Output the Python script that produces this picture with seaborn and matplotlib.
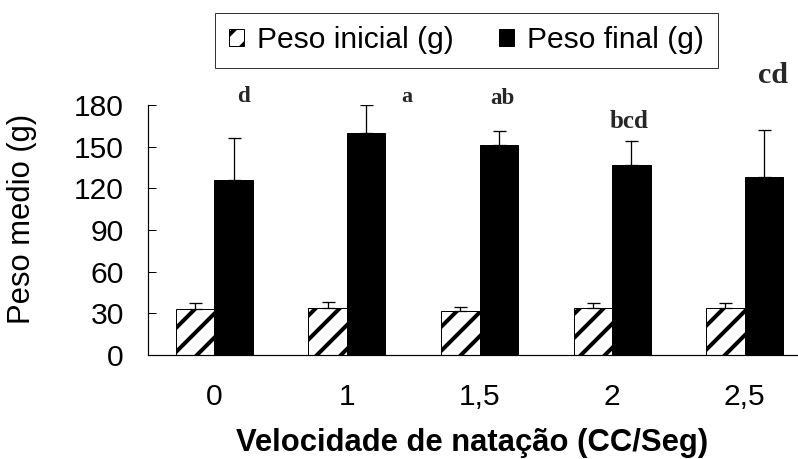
import matplotlib
matplotlib.use("Agg")
import matplotlib.pyplot as plt
import matplotlib.patches as mpatches
import seaborn as sns
import pandas as pd
import numpy as np

# ---- data ----
categories = ["0", "1", "1,5", "2", "2,5"]
peso_inicial = [33.0, 34.2, 31.6, 34.0, 34.2]
peso_inicial_err = [4.1, 4.1, 3.3, 3.1, 2.9]
peso_final = [126.0, 160.0, 151.0, 137.0, 128.0]
peso_final_err = [30.0, 20.0, 10.0, 17.0, 34.0]
letters = ["d", "a", "ab", "bcd", "cd"]
series_names = ["Peso inicial (g)", "Peso final (g)"]
yticks = [0, 30, 60, 90, 120, 150, 180]

# ---- layout for letters (offset from group centre, y in data units, size) ----
letter_dx = [0.22, 0.45, 0.17, 0.13, 0.21]
letter_y = [186, 186, 185, 168, 201]
letter_size = [23, 22, 23, 25, 30]

df = pd.DataFrame({
    "cat": categories * 2,
    "serie": [series_names[0]] * 5 + [series_names[1]] * 5,
    "valor": peso_inicial + peso_final,
})

sns.set_theme(style="white")
plt.rcParams["font.family"] = ["Liberation Sans", "DejaVu Sans"]
plt.rcParams["hatch.linewidth"] = 4.0
plt.rcParams["hatch.color"] = "black"

FS = 30
DPI = 72
fig = plt.figure(figsize=(798 / DPI, 459 / DPI), dpi=DPI)
ax = fig.add_axes([148 / 798, 1 - 355 / 459, 663 / 798, 250 / 459])

sns.barplot(data=df, x="cat", y="valor", hue="serie", order=categories,
            hue_order=series_names,
            palette={series_names[0]: "white", series_names[1]: "black"},
            saturation=1, width=0.58, errorbar=None, edgecolor="black",
            linewidth=1.0, legend=False, ax=ax)

c_ini, c_fin = ax.containers[0], ax.containers[1]
for p in c_ini:
    p.set_hatch("/")
    p.set_facecolor("white")
    p.set_edgecolor("black")

for cont, vals, errs in [(c_ini, peso_inicial, peso_inicial_err),
                         (c_fin, peso_final, peso_final_err)]:
    xs = [p.get_x() + p.get_width() / 2 for p in cont]
    ax.errorbar(xs, vals, yerr=[np.zeros(len(errs)), errs], fmt="none",
                ecolor="black", elinewidth=1.3, capsize=6.5, capthick=1.3,
                zorder=1)

for i, (s, dx, y, fs) in enumerate(zip(letters, letter_dx, letter_y, letter_size)):
    ax.text(i + dx, y, s, ha="center", va="center", fontsize=fs,
            fontweight="bold", family=["Liberation Serif"], clip_on=False)

ax.set_ylim(0, 180)
ax.set_xlim(-0.5, 4.5)
ax.set_yticks(yticks)
ax.set_yticklabels([str(t) for t in yticks], fontsize=FS)
ax.tick_params(axis="y", direction="in", length=8, width=1, pad=24, color="black", left=True)
ax.tick_params(axis="x", length=0, pad=28, labelsize=FS)
for lab in ax.get_xticklabels() + ax.get_yticklabels():
    lab.set_color("black")

for s in ["top", "right"]:
    ax.spines[s].set_visible(False)
for s in ["left", "bottom"]:
    ax.spines[s].set_color("black")
    ax.spines[s].set_linewidth(1.2)

ax.set_ylabel("Peso medio (g)", fontsize=31, color="black")
ax.yaxis.set_label_coords(-0.167, 0.546)
ax.set_xlabel("Velocidade de natação (CC/Seg)", fontsize=31, fontweight="bold",
              color="black")
ax.xaxis.set_label_coords(0.4894, -0.292)

handles = [mpatches.Patch(facecolor="white", edgecolor="black", hatch="/", linewidth=1),
           mpatches.Patch(facecolor="black", edgecolor="black", linewidth=1)]
leg = fig.legend(handles, series_names, loc="center",
                 bbox_to_anchor=(466.5 / 798, 1 - 40.5 / 459), ncol=2,
                 fontsize=FS, frameon=True, fancybox=False, shadow=False,
                 handlelength=0.5, handleheight=0.5, handletextpad=0.45,
                 columnspacing=1.5, borderpad=0.45)
leg.get_frame().set_edgecolor("black")
leg.get_frame().set_linewidth(1.0)
for t in leg.get_texts():
    t.set_color("black")

fig.savefig("out.png", dpi=DPI, facecolor="white")
